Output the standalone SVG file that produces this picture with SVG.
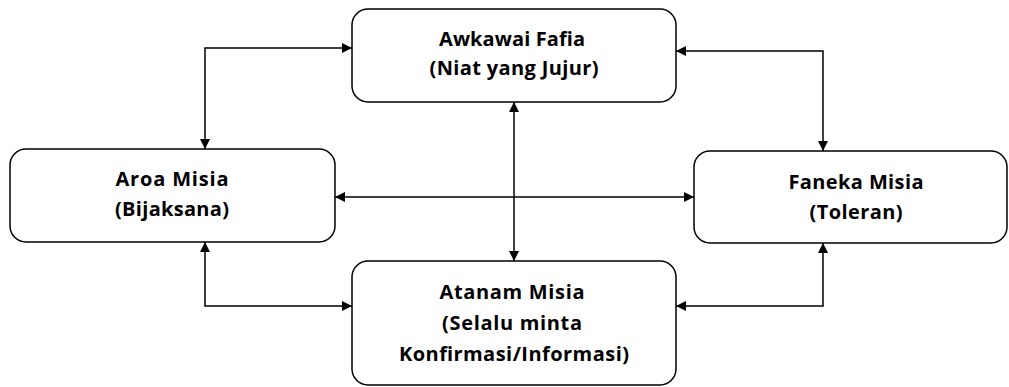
<svg xmlns="http://www.w3.org/2000/svg" width="1009" height="387" viewBox="0 0 1009 387">
<style>
.box{fill:#fff;stroke:#000;stroke-width:1.5}
.t{font-family:"Open Sans","Liberation Sans",sans-serif;font-weight:bold;font-size:20px;text-anchor:middle;fill:#000}
.c{fill:none;stroke:#000;stroke-width:1.5}
</style>
<defs>
<marker id="a" viewBox="0 0 10 10" refX="10" refY="5" markerWidth="10" markerHeight="10" markerUnits="userSpaceOnUse" orient="auto-start-reverse">
<path d="M0,0 L10,5 L0,10 z" fill="#000"/>
</marker>
</defs>
<rect width="1009" height="387" fill="#fff"/>
<g id="connectors">
<path class="c" d="M205,149 V48 H352" marker-start="url(#a)" marker-end="url(#a)"/>
<path class="c" d="M676,51 H823 V151" marker-start="url(#a)" marker-end="url(#a)"/>
<path class="c" d="M514,102 V261" marker-start="url(#a)" marker-end="url(#a)"/>
<path class="c" d="M335,197 H694" marker-start="url(#a)" marker-end="url(#a)"/>
<path class="c" d="M205,242 V306 H352" marker-start="url(#a)" marker-end="url(#a)"/>
<path class="c" d="M676,306 H823 V243" marker-start="url(#a)" marker-end="url(#a)"/>
</g>
<g id="awkawai">
<rect class="box" x="352" y="9" width="324" height="93" rx="16"/>
<text class="t" x="512" y="46" textLength="146" lengthAdjust="spacing">Awkawai Fafia</text>
<text class="t" x="514" y="75" textLength="169" lengthAdjust="spacing">(Niat yang Jujur)</text>
</g>
<g id="aroa">
<rect class="box" x="10" y="149" width="325" height="93" rx="16"/>
<text class="t" x="172" y="186" textLength="113" lengthAdjust="spacing">Aroa Misia</text>
<text class="t" x="172" y="216" textLength="114" lengthAdjust="spacing">(Bijaksana)</text>
</g>
<g id="faneka">
<rect class="box" x="694" y="151" width="313" height="92" rx="16"/>
<text class="t" x="856" y="189" textLength="135" lengthAdjust="spacing">Faneka Misia</text>
<text class="t" x="856" y="219" textLength="93" lengthAdjust="spacing">(Toleran)</text>
</g>
<g id="atanam">
<rect class="box" x="352" y="261" width="324" height="124" rx="16"/>
<text class="t" x="512" y="299" textLength="145" lengthAdjust="spacing">Atanam Misia</text>
<text class="t" x="512" y="330" textLength="140" lengthAdjust="spacing">(Selalu minta</text>
<text class="t" x="514" y="361" textLength="230" lengthAdjust="spacing">Konfirmasi/Informasi)</text>
</g>
</svg>
